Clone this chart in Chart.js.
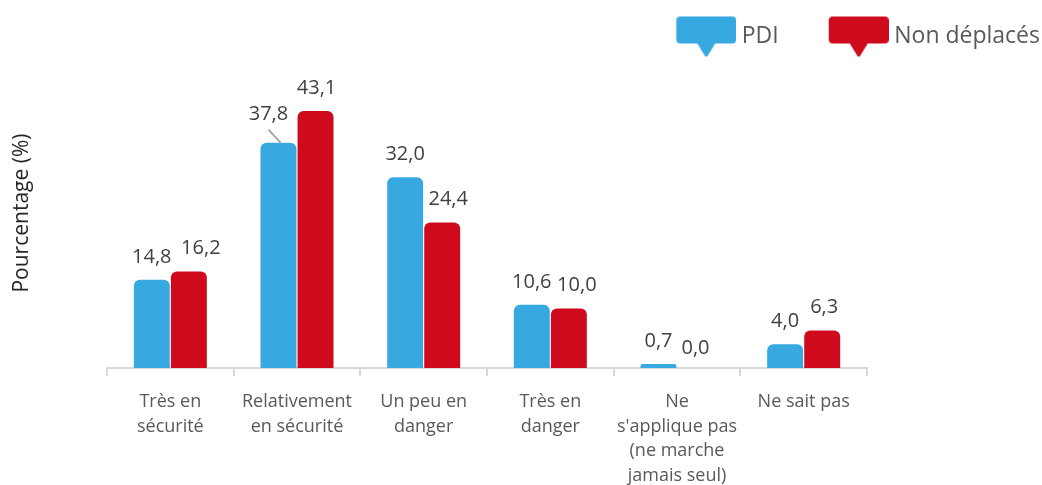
<!DOCTYPE html>
<html>
<head>
<meta charset="utf-8">
<script src="https://cdn.jsdelivr.net/npm/chart.js@4"></script>
<style>
  html, body { margin: 0; padding: 0; background: #fff; overflow: hidden; }
  #wrap { width: 1042px; height: 502px; position: relative; }
</style>
</head>
<body>
<div id="wrap"><canvas id="safety_chart"></canvas></div>
<script>
// Categories on the x axis (one array per wrapped label).
const categories = [
  ['Très en', 'sécurité'],
  ['Relativement', 'en sécurité'],
  ['Un peu en', 'danger'],
  ['Très en', 'danger'],
  ['Ne', "s'applique pas", '(ne marche', 'jamais seul)'],
  ['Ne sait pas']
];

// Percentages per group.
const pdi = [14.8, 37.8, 32.0, 10.6, 0.7, 4.0];
const nonDeplaces = [16.2, 43.1, 24.4, 10.0, 0.0, 6.3];

const blue = '#37a9e0';
const red = '#cf0a1d';

// Small manual nudges for the value labels, [dx, dy] in px.
const pdiNudge = [[0, 0], [-10, -5], [0, 0], [0, 0], [0, 0], [0, 0]];
const nonNudge = [[12, 0], [1, 0], [6, 0], [8, 0], [0, 3], [2, 0]];

const fontFamily = "'Open Sans', sans-serif";

// Speech-bubble icon for the legend, drawn into a small canvas.
// The bubble sits at the right end so it lands next to the text.
function bubbleIcon(color) {
  const c = document.createElement('canvas');
  c.width = 106;
  c.height = 42;
  const ctx = c.getContext('2d');
  const x0 = 46, y0 = 1, w = 60, h = 27, r = 4;
  ctx.fillStyle = color;
  ctx.beginPath();
  ctx.moveTo(x0 + r, y0);
  ctx.lineTo(x0 + w - r, y0);
  ctx.quadraticCurveTo(x0 + w, y0, x0 + w, y0 + r);
  ctx.lineTo(x0 + w, y0 + h - r);
  ctx.quadraticCurveTo(x0 + w, y0 + h, x0 + w - r, y0 + h);
  ctx.lineTo(x0 + 39, y0 + h);
  ctx.lineTo(x0 + 31, y0 + h + 13);
  ctx.lineTo(x0 + 29, y0 + h + 13);
  ctx.lineTo(x0 + 21, y0 + h);
  ctx.lineTo(x0 + r, y0 + h);
  ctx.quadraticCurveTo(x0, y0 + h, x0, y0 + h - r);
  ctx.lineTo(x0, y0 + r);
  ctx.quadraticCurveTo(x0, y0, x0 + r, y0);
  ctx.closePath();
  ctx.fill();
  return c;
}
const icons = [bubbleIcon(blue), bubbleIcon(red)];

const fmt = v => v.toFixed(1).replace('.', ',');

// Value labels above every bar.
const valueLabels = {
  id: 'valueLabels',
  afterDatasetsDraw(chart) {
    const ctx = chart.ctx;
    ctx.save();
    ctx.font = '20px ' + fontFamily;
    ctx.fillStyle = '#404040';
    ctx.textAlign = 'center';
    ctx.textBaseline = 'middle';
    chart.data.datasets.forEach((ds, di) => {
      const nudge = di === 0 ? pdiNudge : nonNudge;
      chart.getDatasetMeta(di).data.forEach((bar, i) => {
        const tx = bar.x + nudge[i][0];
        const ty = bar.y - 23 + nudge[i][1];
        if (nudge[i][1] < 0) {
          // leader line for a moved label
          ctx.strokeStyle = '#a6a6a6';
          ctx.lineWidth = 2;
          ctx.beginPath();
          ctx.moveTo(tx, ty + 15);
          ctx.lineTo(bar.x + 2, bar.y);
          ctx.stroke();
        }
        ctx.fillText(fmt(ds.data[i]), tx, ty);
      });
    });
    ctx.restore();
  }
};

const safety_chart = document.getElementById('safety_chart');

let chart = new Chart(safety_chart, {
  type: 'bar',
  data: {
    labels: categories,
    datasets: [
      {
        label: 'PDI',
        data: pdi,
        backgroundColor: blue,
        borderRadius: 6,
        borderSkipped: 'start'
      },
      {
        label: 'Non déplacés',
        data: nonDeplaces,
        backgroundColor: red,
        borderRadius: 6,
        borderSkipped: 'start'
      }
    ]
  },
  options: {
    responsive: true,
    maintainAspectRatio: false,
    animation: false,
    categoryPercentage: 0.585,
    barPercentage: 0.97,
    layout: {
      padding: { top: 15, left: 0, right: -8, bottom: 0 }
    },
    plugins: {
      tooltip: { enabled: false },
      legend: {
        position: 'top',
        align: 'end',
        labels: {
          usePointStyle: true,
          pointStyleWidth: 94,
          padding: 10,
          color: '#595959',
          font: { family: fontFamily, size: 23 },
          generateLabels: function(chart) {
            const items = Chart.defaults.plugins.legend.labels.generateLabels(chart);
            items.forEach(item => { item.pointStyle = icons[item.datasetIndex]; });
            return items;
          }
        }
      }
    },
    scales: {
      x: {
        offset: true,
        border: { display: true, color: '#d9d9d9', width: 2 },
        grid: {
          offset: true,
          drawOnChartArea: false,
          drawTicks: true,
          tickLength: 8,
          color: '#d9d9d9',
          lineWidth: 2
        },
        ticks: {
          autoSkip: false,
          maxRotation: 0,
          padding: 14,
          color: '#595959',
          font: { family: fontFamily, size: 18, lineHeight: 1.36 }
        }
      },
      y: {
        position: 'left',
        min: 0,
        max: 52.0,
        grid: { display: false },
        border: { display: false },
        ticks: { display: false },
        title: {
          display: true,
          text: 'Pourcentage (%)',
          color: '#262626',
          padding: { top: 9, bottom: 0 },
          font: { family: fontFamily, size: 21 }
        },
        afterFit(scale) { scale.width = 107; }
      },
      pad: {
        type: 'linear',
        position: 'right',
        display: true,
        grid: { display: false },
        border: { display: false },
        ticks: { display: false },
        afterFit(scale) { scale.width = 183; }
      }
    }
  },
  plugins: [valueLabels]
});
</script>
</body>
</html>
